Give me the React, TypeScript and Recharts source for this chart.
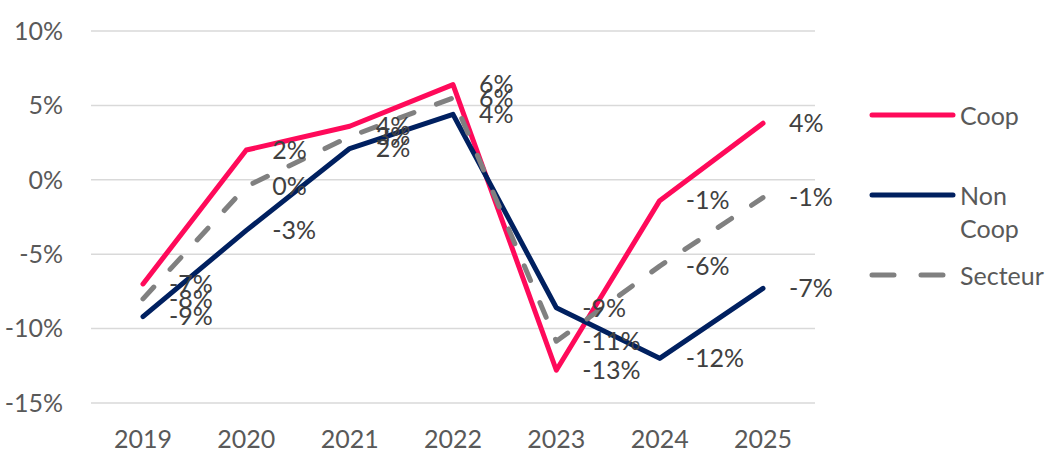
import { LineChart, Line, XAxis, YAxis, CartesianGrid, LabelList } from 'recharts';

const years = ['2019', '2020', '2021', '2022', '2023', '2024', '2025'];
const coop = [-7.0, 2.0, 3.6, 6.4, -12.8, -1.4, 3.8];
const nonCoop = [-9.2, -3.4, 2.1, 4.4, -8.6, -12.0, -7.3];
const secteur = [-8.0, -0.45, 2.9, 5.5, -10.85, -5.8, -1.2];
const yTicks = [-15, -10, -5, 0, 5, 10];

const data = years.map((year, i) => ({
    year,
    coop: coop[i],
    nonCoop: nonCoop[i],
    secteur: secteur[i],
}));

const FONT = 'Lato, "Liberation Sans", sans-serif';
const FS = 25;

const renderLabel = (props: any) => {
    const { x, y, value } = props;
    return (
        <text x={x + 26} y={y} dy="0.35em" fill="#404040" fontSize={FS} fontFamily={FONT}>
            {`${Math.round(value)}%`}
        </text>
    );
};

const legendItems = [
    { lines: ['Coop'], color: '#ff0a5a', dash: undefined as string | undefined },
    { lines: ['Non', 'Coop'], color: '#002060', dash: undefined },
    { lines: ['Secteur'], color: '#808080', dash: '22 27' },
];

// legend sits outside the plot so it doesn't eat chart space
const ChartLegend = () => (
    <div style={{ position: 'absolute', left: 869, top: 99, fontFamily: FONT, fontSize: FS, color: '#595959' }}>
        {legendItems.map((item, i) => (
            <div key={i} style={{ display: 'flex', alignItems: 'flex-start', marginBottom: i === 0 ? 47 : 14 }}>
                <svg width={87} height={33} style={{ marginRight: 4 }}>
                    <line x1={3} y1={16} x2={84} y2={16} stroke={item.color} strokeWidth={5}
                        strokeLinecap="round" strokeDasharray={item.dash} />
                </svg>
                <div style={{ lineHeight: '33px' }}>
                    {item.lines.map((l) => <div key={l}>{l}</div>)}
                </div>
            </div>
        ))}
    </div>
);

const App = () => {
    return (
        <div style={{ position: 'absolute', left: 0, top: 0, width: 1060, height: 466, background: '#fff' }}>
            <LineChart width={1060} height={466} data={data} margin={{ top: 31, right: 245, bottom: 0, left: 0 }}>
                <CartesianGrid vertical={false} stroke="#d9d9d9" strokeWidth={1.5} />
                <XAxis dataKey="year" axisLine={false} tickLine={false} tickSize={0} tickMargin={27} height={63}
                    padding={{ left: 52, right: 52 }} interval={0}
                    tick={{ fill: '#595959', fontSize: FS, fontFamily: FONT }} />
                <YAxis domain={[-15, 10]} ticks={yTicks} width={91} axisLine={false} tickLine={false} interval={0}
                    tickSize={0} tickMargin={28} tickFormatter={(v) => `${v}%`}
                    tick={{ fill: '#595959', fontSize: FS, fontFamily: FONT }} />
                <Line dataKey="coop" name="Coop" stroke="#ff0a5a" strokeWidth={5} dot={false} activeDot={false}
                    strokeLinecap="round" strokeLinejoin="round" isAnimationActive={false}>
                    <LabelList dataKey="coop" content={renderLabel} />
                </Line>
                <Line dataKey="nonCoop" name="Non Coop" stroke="#002060" strokeWidth={5} dot={false} activeDot={false}
                    strokeLinecap="round" strokeLinejoin="round" isAnimationActive={false}>
                    <LabelList dataKey="nonCoop" content={renderLabel} />
                </Line>
                <Line dataKey="secteur" name="Secteur" stroke="#808080" strokeWidth={5} strokeDasharray="16 24"
                    dot={false} activeDot={false} strokeLinecap="round" strokeLinejoin="round" isAnimationActive={false}>
                    <LabelList dataKey="secteur" content={renderLabel} />
                </Line>
            </LineChart>
            <ChartLegend />
        </div>
    );
};

export default App;
